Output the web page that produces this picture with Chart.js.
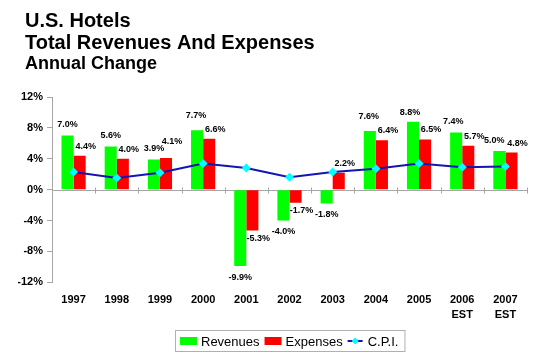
<!DOCTYPE html>
<html><head><meta charset="utf-8">
<script src="https://cdn.jsdelivr.net/npm/chart.js@4/dist/chart.umd.min.js"></script>
<style>html,body{margin:0;padding:0;background:#fff;}#wrap{width:548px;height:356px;position:relative;}</style>
</head><body><div id="wrap"><canvas id="c"></canvas></div>
<script>
const titleLines = ['U.S. Hotels', 'Total Revenues And Expenses'];
const subtitleText = 'Annual Change';
const categories = [['1997'],['1998'],['1999'],['2000'],['2001'],['2002'],['2003'],['2004'],['2005'],['2006','EST'],['2007','EST']];
const revenues = [7.0, 5.6, 3.9, 7.7, -9.9, -4.0, -1.8, 7.6, 8.8, 7.4, 5.0];
const expenses = [4.4, 4.0, 4.1, 6.6, -5.3, -1.7, 2.2, 6.4, 6.5, 5.7, 4.8];
const cpi = [2.3, 1.5, 2.2, 3.4, 2.8, 1.6, 2.3, 2.7, 3.4, 2.9, 3.0];
const yTickValues = [-12, -8, -4, 0, 4, 8, 12];

const FONT = "'Liberation Sans', Arial, sans-serif";
Chart.defaults.font.family = FONT;
const AXIS_GRAY = '#a6a6a6';
const GREEN = '#00FF00', RED = '#FF0000', LINE = '#1414B4', MARK = '#00FFFF';
// small per-label nudges (style only): [dx, dy]
const labelNudge = {'1-2': [0, -7], '0-3': [-1, -4], '0-7': [-1, -3], '0-8': [-3, 2], '0-9': [-3, 0], '0-10': [-5, 0], '1-10': [0, 0]};

const titlePlugin = {
  id: 'leftTitle',
  afterDraw(chart) {
    const {ctx} = chart;
    ctx.save();
    ctx.fillStyle = '#000';
    ctx.textAlign = 'left';
    ctx.textBaseline = 'alphabetic';
    ctx.font = 'bold 20px ' + FONT;
    ctx.fillText(titleLines[0], 25, 27);
    ctx.fillText(titleLines[1], 25, 49);
    ctx.font = 'bold 18px ' + FONT;
    ctx.fillText(subtitleText, 25, 69);
    ctx.restore();
  }
};

const zeroLinePlugin = {
  id: 'zeroLine',
  beforeDatasetsDraw(chart) {
    const {ctx, chartArea, scales} = chart;
    const y0 = Math.round(scales.y.getPixelForValue(0)) + 0.5;
    ctx.save();
    ctx.strokeStyle = AXIS_GRAY; ctx.lineWidth = 1;
    ctx.beginPath();
    ctx.moveTo(chartArea.left, y0); ctx.lineTo(chartArea.right, y0);
    for (let i = 1; i <= categories.length; i++) {
      const x = Math.round(scales.x.getPixelForValue(i - 0.5)) + 0.5;
      ctx.moveTo(x, y0 - 3); ctx.lineTo(x, y0 + 3);
    }
    ctx.stroke();
    ctx.restore();
  }
};

const valueLabelPlugin = {
  id: 'valueLabels',
  afterDatasetsDraw(chart) {
    const {ctx} = chart;
    ctx.save();
    ctx.font = 'bold 9px ' + FONT;
    ctx.fillStyle = '#000';
    ctx.textAlign = 'center';
    ctx.textBaseline = 'middle';
    [0, 1].forEach(di => {
      const meta = chart.getDatasetMeta(di);
      const vals = chart.data.datasets[di].data;
      meta.data.forEach((el, i) => {
        const v = vals[i];
        const n = labelNudge[di + '-' + i] || [0, 0];
        const dx = (di === 0 ? 0 : 6) + n[0];
        let y;
        if (v >= 0) y = el.y - (di === 0 ? 11 : 9.5) + n[1];
        else y = el.y + (di === 0 ? 11 : 8);
        ctx.fillText(v.toFixed(1) + '%', el.x + dx, y);
      });
    });
    ctx.restore();
  }
};

const legendPlugin = {
  id: 'boxLegend',
  afterDraw(chart) {
    const {ctx, chartArea} = chart;
    const items = chart.data.datasets.map(d => d.label);
    ctx.save();
    ctx.font = '13px ' + FONT;
    const widths = items.map(t => ctx.measureText(t).width);
    const sw = 17, lw = 15;
    let total = 5;
    items.forEach((t, i) => { total += (i === 2 ? lw + 5 : sw + 4) + widths[i] + (i < 2 ? 5 : 6); });
    const bh = 21;
    const bx = Math.round((chartArea.left + chartArea.right) / 2 - total / 2);
    const by = chart.height - 26;
    ctx.strokeStyle = '#b0b0b0'; ctx.lineWidth = 1;
    ctx.strokeRect(bx + 0.5, by + 0.5, total, bh);
    const cy = by + bh / 2 + 0.5;
    let x = bx + 5;
    ctx.textBaseline = 'middle'; ctx.textAlign = 'left';
    items.forEach((t, i) => {
      const ds = chart.data.datasets[i];
      if (i < 2) {
        ctx.fillStyle = ds.backgroundColor;
        ctx.fillRect(x, cy - 4, sw, 8);
        x += sw + 4;
      } else {
        ctx.strokeStyle = LINE; ctx.lineWidth = 2;
        ctx.beginPath(); ctx.moveTo(x, cy); ctx.lineTo(x + lw, cy); ctx.stroke();
        ctx.fillStyle = MARK;
        const mx = x + lw / 2, r = 3.5;
        ctx.beginPath(); ctx.moveTo(mx, cy - r); ctx.lineTo(mx + r, cy); ctx.lineTo(mx, cy + r); ctx.lineTo(mx - r, cy); ctx.closePath(); ctx.fill();
        x += lw + 5;
      }
      ctx.fillStyle = '#000';
      ctx.fillText(t, x, cy + 1);
      x += widths[i] + 5;
    });
    ctx.restore();
  }
};

new Chart(document.getElementById('c'), {
  data: {
    labels: categories,
    datasets: [
      {type: 'bar', label: 'Revenues', data: revenues, backgroundColor: GREEN, order: 2,
       categoryPercentage: 0.56, barPercentage: 1.0},
      {type: 'bar', label: 'Expenses', data: expenses, backgroundColor: RED, order: 2,
       categoryPercentage: 0.56, barPercentage: 1.0},
      {type: 'line', label: 'C.P.I.', data: cpi, borderColor: LINE, borderWidth: 2, tension: 0,
       pointStyle: 'rectRot', pointRadius: 4.5, pointBackgroundColor: MARK, pointBorderColor: MARK,
       pointBorderWidth: 0, order: 1}
    ]
  },
  options: {
    responsive: true, maintainAspectRatio: false, animation: false, devicePixelRatio: 1,
    layout: {padding: {left: 18, right: 21, top: 97, bottom: 24}},
    plugins: {
      legend: {display: false},
      tooltip: {enabled: false},
      title: {display: false},
      subtitle: {display: false}
    },
    scales: {
      x: {
        type: 'category', offset: true,
        grid: {display: false, drawTicks: false, tickLength: 0}, border: {display: false},
        ticks: {color: '#000', font: {size: 11, weight: 'bold', lineHeight: 1.35}, padding: 10, maxRotation: 0, autoSkip: false}
      },
      y: {
        min: -12, max: 12,
        afterBuildTicks(scale) { scale.ticks = yTickValues.map(v => ({value: v})); },
        afterFit(scale) { scale.width = 34; },
        grid: {drawOnChartArea: false, drawTicks: true, tickLength: 5, color: AXIS_GRAY},
        border: {display: true, color: AXIS_GRAY},
        ticks: {color: '#000', font: {size: 11, weight: 'bold'}, padding: 4, callback: v => v + '%'}
      }
    }
  },
  plugins: [zeroLinePlugin, valueLabelPlugin, legendPlugin, titlePlugin]
});
</script></body></html>
